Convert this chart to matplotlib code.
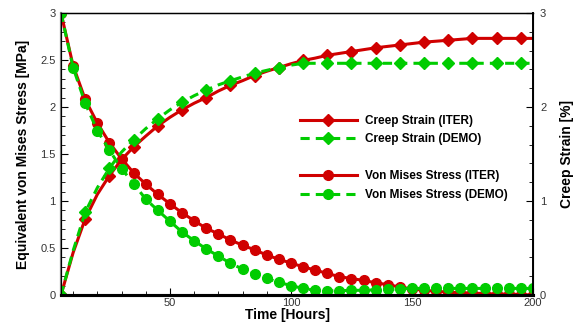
import numpy as np
import matplotlib.pyplot as plt
from matplotlib.lines import Line2D
from matplotlib.ticker import MultipleLocator, FuncFormatter

plt.rcParams['font.family'] = ['Liberation Sans', 'DejaVu Sans']

# time in hours, one sample every 5 h
time = list(range(5, 201, 5))

stress_iter = [3.0, 2.44, 2.08, 1.83, 1.62, 1.45, 1.30, 1.18, 1.07, 0.97,
               0.875, 0.79, 0.71, 0.65, 0.585, 0.53, 0.48, 0.425, 0.38, 0.34,
               0.30, 0.265, 0.23, 0.195, 0.175, 0.155, 0.13, 0.11, 0.085, 0.065,
               0.05, 0.04, 0.03, 0.025, 0.02, 0.015, 0.01, 0.01, 0.005, 0.0]
stress_demo = [3.0, 2.42, 2.04, 1.75, 1.54, 1.345, 1.185, 1.02, 0.90, 0.785,
               0.67, 0.577, 0.49, 0.415, 0.337, 0.276, 0.223, 0.177, 0.135, 0.10,
               0.07, 0.05, 0.045, 0.045, 0.05, 0.05, 0.055, 0.06, 0.065, 0.07,
               0.07, 0.07, 0.07, 0.07, 0.07, 0.07, 0.07, 0.07, 0.07, 0.07]
creep_iter = [0.0, 0.45, 0.81, 1.07, 1.27, 1.44, 1.575, 1.69, 1.80, 1.89,
              1.97, 2.04, 2.10, 2.17, 2.23, 2.28, 2.335, 2.38, 2.42, 2.46,
              2.495, 2.52, 2.55, 2.57, 2.59, 2.61, 2.63, 2.645, 2.66, 2.675,
              2.69, 2.70, 2.71, 2.72, 2.73, 2.73, 2.73, 2.73, 2.73, 2.73]
creep_demo = [0.0, 0.47, 0.88, 1.14, 1.35, 1.52, 1.65, 1.77, 1.875, 1.97,
              2.05, 2.12, 2.18, 2.235, 2.28, 2.32, 2.36, 2.39, 2.42, 2.445,
              2.465, 2.465, 2.465, 2.465, 2.465, 2.465, 2.465, 2.465, 2.465, 2.465,
              2.465, 2.465, 2.465, 2.465, 2.465, 2.465, 2.465, 2.465, 2.465, 2.465]

red = '#d00000'
green = '#00cc00'
dash = (0, (3, 2))

fig = plt.figure(figsize=(5.8, 3.25), dpi=100)
ax = fig.add_axes([61/580, 30/325, 472/580, 282/325])
ax2 = ax.twinx()

ax.plot(time, stress_iter, color=red, lw=2.2, marker='o', ms=7, mec=red, zorder=3)
ax.plot(time, stress_demo, color=green, lw=2.2, ls=dash, marker='o', ms=7, mec=green, zorder=4)
ax2.plot(time, creep_iter, color=red, lw=2.2, marker='D', ms=6, mec=red, markevery=2)
ax2.plot(time, creep_demo, color=green, lw=2.2, ls=dash, marker='D', ms=6, mec=green, markevery=2)

for a in (ax, ax2):
    a.set_xlim(5, 200)
    a.set_ylim(0, 3)

fmt = FuncFormatter(lambda v, p: '%g' % v)
ax.xaxis.set_major_locator(MultipleLocator(50))
ax.xaxis.set_minor_locator(MultipleLocator(10))
ax.yaxis.set_major_locator(MultipleLocator(0.5))
ax.yaxis.set_minor_locator(MultipleLocator(0.1))
ax.yaxis.set_major_formatter(fmt)
ax2.yaxis.set_major_locator(MultipleLocator(1))
ax2.yaxis.set_minor_locator(MultipleLocator(0.2))
ax2.yaxis.set_major_formatter(fmt)

ax.tick_params(which='both', direction='in', labelsize=8, labelcolor='#333333')
ax.tick_params(axis='x', which='both', top=False, pad=2)
ax.tick_params(axis='y', which='both', right=False, pad=4)
ax.tick_params(which='major', length=5)
ax.tick_params(which='minor', length=3)
ax2.tick_params(which='both', direction='in', labelsize=8, labelcolor='#333333', pad=5)
ax2.tick_params(which='major', length=5)
ax2.tick_params(which='minor', length=3)

ax.spines['left'].set_color('#808080')
ax.spines['left'].set_linewidth(1.6)
ax.spines['bottom'].set_linewidth(2.2)
ax.spines['top'].set_linewidth(1.0)
ax2.spines['right'].set_linewidth(1.4)
ax2.spines['bottom'].set_linewidth(2.2)

ax.set_xlabel('Time [Hours]', fontsize=10, fontweight='bold')
ax.set_ylabel('Equivalent von Mises Stress [MPa]', fontsize=10, fontweight='bold')
ax2.set_ylabel('Creep Strain [%]', fontsize=10, fontweight='bold')
ax.xaxis.set_label_coords(0.48, -0.045)
ax.yaxis.set_label_coords(-0.066, 0.5)
ax2.yaxis.set_label_coords(1.057, 0.5)

handles = [
    Line2D([], [], color=red, lw=2.2, marker='D', ms=6),
    Line2D([], [], color=green, lw=2.2, ls=dash, marker='D', ms=6),
    Line2D([], [], color='none'),
    Line2D([], [], color=red, lw=2.2, marker='o', ms=7),
    Line2D([], [], color=green, lw=2.2, ls=dash, marker='o', ms=7),
]
labels = ['Creep Strain (ITER)', 'Creep Strain (DEMO)', ' ',
          'Von Mises Stress (ITER)', 'Von Mises Stress (DEMO)']
ax2.legend(handles, labels, loc='upper left', bbox_to_anchor=(300/580, 1 - 115/325),
           bbox_transform=fig.transFigure, frameon=False, borderpad=0, borderaxespad=0,
           handlelength=4.8, handletextpad=0.7, labelspacing=0.55, numpoints=1,
           prop={'size': 8.5, 'weight': 'bold'})

fig.savefig('out.png', dpi=100)
